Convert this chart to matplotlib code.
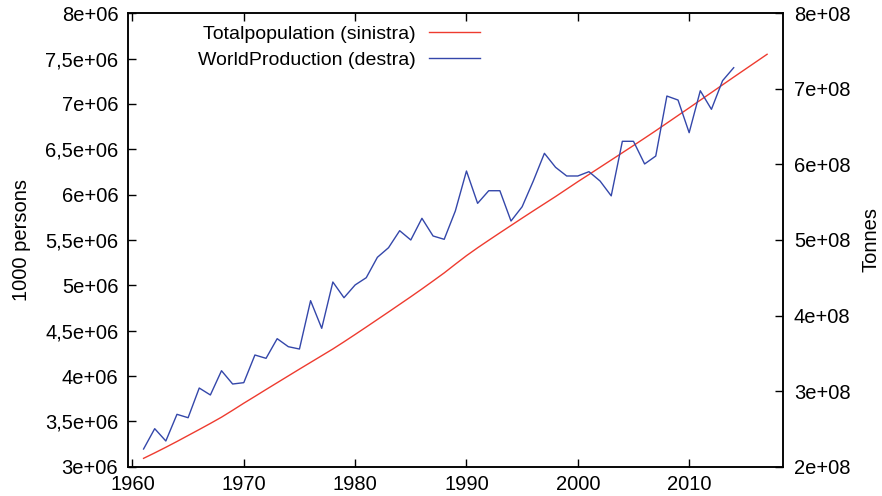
import matplotlib
matplotlib.use("Agg")
import matplotlib.pyplot as plt
from matplotlib.ticker import FuncFormatter, MultipleLocator

plt.rcParams['font.family'] = ['Liberation Sans', 'DejaVu Sans']
plt.rcParams['font.size'] = 14.5

# World population, thousands of persons (left axis)
pop_years = list(range(1961, 2018))
population = [
    3092, 3152, 3214, 3278, 3344, 3410, 3477, 3546, 3622, 3700,
    3775, 3851, 3926, 4001, 4076, 4150, 4224, 4298, 4377, 4458,
    4540, 4623, 4706, 4790, 4874, 4960, 5048, 5137, 5233, 5327,
    5414, 5497, 5579, 5660, 5741, 5821, 5900, 5979, 6061, 6143,
    6222, 6302, 6382, 6462, 6542, 6623, 6705, 6789, 6873, 6957,
    7042, 7126, 7211, 7296, 7380, 7464, 7548,
]
population = [p * 1000 for p in population]

# World production, tonnes (right axis), in units of 1e8
prod_years = list(range(1961, 2015))
production = [
    2.234, 2.503, 2.340, 2.693, 2.648, 3.041, 2.949, 3.270, 3.094, 3.112,
    3.478, 3.434, 3.694, 3.588, 3.557, 4.197, 3.831, 4.444, 4.236, 4.405,
    4.501, 4.771, 4.898, 5.123, 5.000, 5.287, 5.053, 5.009, 5.384, 5.913,
    5.485, 5.652, 5.652, 5.251, 5.440, 5.780, 6.147, 5.962, 5.847, 5.847,
    5.904, 5.780, 5.584, 6.306, 6.306, 6.006, 6.111, 6.905, 6.852, 6.420,
    6.975, 6.729, 7.108, 7.280,
]
production = [p * 1e8 for p in production]

RED = '#ee3b2f'
BLUE = '#3447aa'


def left_fmt(v, pos):
    m = v / 1e6
    if abs(m - round(m)) < 1e-9:
        return f"{int(round(m))}e+06"
    return f"{m:g}".replace('.', ',') + "e+06"


def right_fmt(v, pos):
    return f"{int(round(v / 1e8))}e+08"


fig = plt.figure(figsize=(8.82, 4.96), dpi=100)
ax = fig.add_axes([0.1451, 0.0591, 0.7423, 0.9141])
ax2 = ax.twinx()

l1, = ax.plot(pop_years, population, color=RED, lw=1.0,
              label='Totalpopulation (sinistra)')
l2, = ax2.plot(prod_years, production, color=BLUE, lw=1.0,
               label='WorldProduction (destra)')

ax.set_xlim(1959.6, 2018.4)
ax.set_ylim(3e6, 8e6)
ax2.set_ylim(2e8, 8e8)

ax.xaxis.set_major_locator(MultipleLocator(10))
ax.yaxis.set_major_locator(MultipleLocator(5e5))
ax2.yaxis.set_major_locator(MultipleLocator(1e8))
ax.yaxis.set_major_formatter(FuncFormatter(left_fmt))
ax2.yaxis.set_major_formatter(FuncFormatter(right_fmt))

ax.tick_params(axis='x', direction='in', length=6, width=1, top=True, pad=6)
ax.tick_params(axis='y', direction='in', length=6, width=1, pad=7)
ax2.tick_params(axis='y', direction='in', length=6, width=1, pad=8)

for a in (ax, ax2):
    for s in a.spines.values():
        s.set_linewidth(1.1)
        s.set_color('black')

ax.set_ylabel('1000 persons', labelpad=10)
ax2.set_ylabel('Tonnes', labelpad=8)

leg = ax.legend(handles=[l1, l2], loc='upper right',
                bbox_to_anchor=(0.553, 0.965), bbox_transform=fig.transFigure,
                frameon=False, markerfirst=False, handlelength=2.6,
                handletextpad=0.7, labelspacing=0.45, borderaxespad=0,
                fontsize=14)

fig.savefig('out.png', dpi=100)
